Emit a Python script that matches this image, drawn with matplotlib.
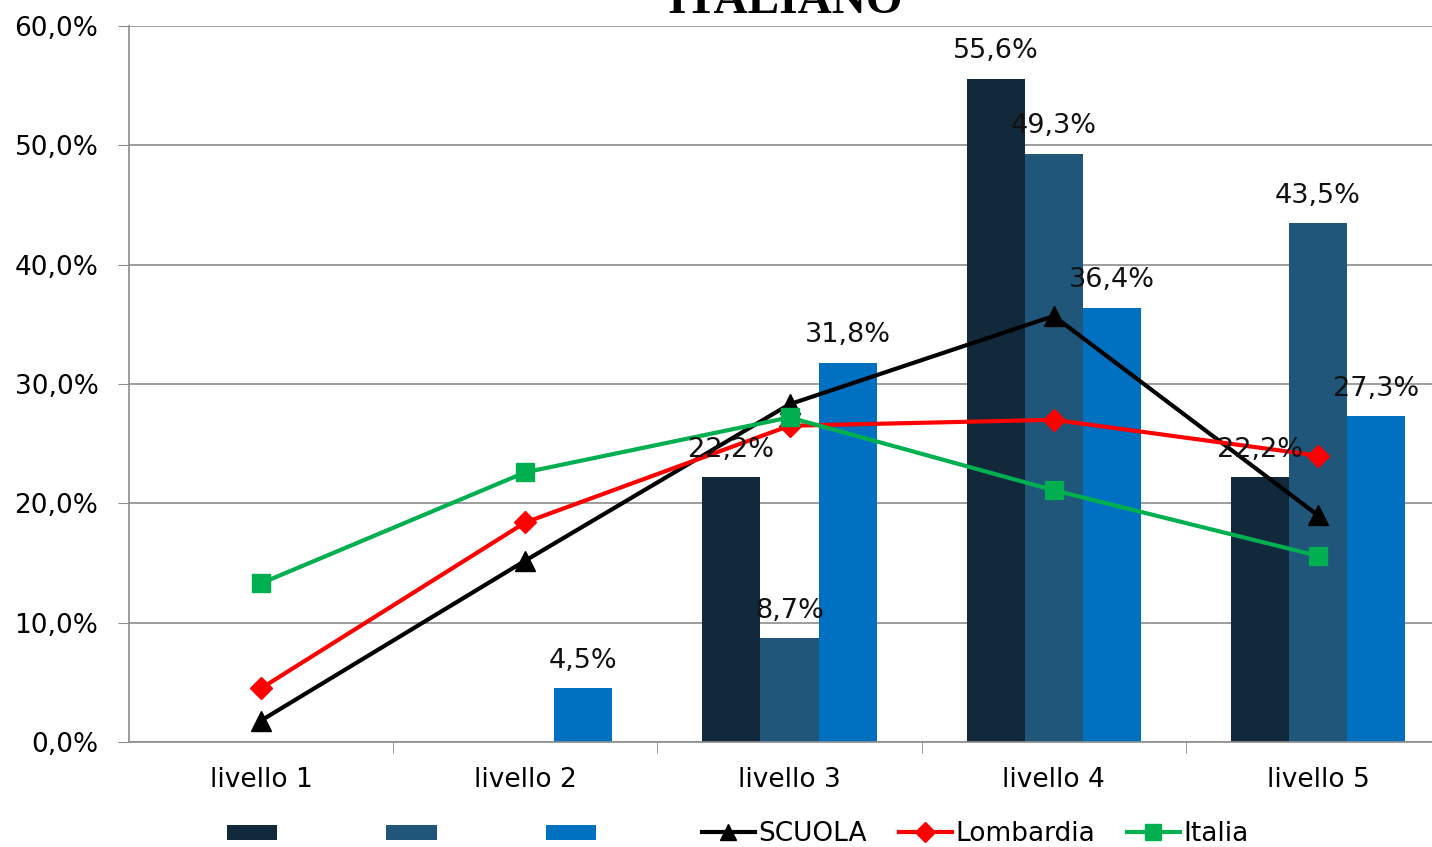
import matplotlib
matplotlib.use("Agg")
import matplotlib.pyplot as plt
from matplotlib.patches import Patch
from matplotlib.lines import Line2D
import numpy as np

categories = ["livello 1", "livello 2", "livello 3", "livello 4", "livello 5"]
bar_a = [0.0, 0.0, 22.2, 55.6, 22.2]
bar_b = [0.0, 0.0, 8.7, 49.3, 43.5]
bar_c = [0.0, 4.5, 31.8, 36.4, 27.3]
scuola = [1.8, 15.2, 28.3, 35.7, 19.0]
lombardia = [4.5, 18.4, 26.5, 27.0, 24.0]
italia = [13.3, 22.6, 27.2, 21.1, 15.6]
yticks = [0, 10, 20, 30, 40, 50, 60]

W, H = 1432, 847
fig = plt.figure(figsize=(W / 100, H / 100), dpi=100)
x0, x1 = 129, 1450
ytop, ybot = 26, 742
ax = fig.add_axes([x0 / W, 1 - ybot / H, (x1 - x0) / W, (ybot - ytop) / H])

x = np.arange(len(categories))
bw = 0.22
colors = ["#11293b", "#1f5679", "#0070c0"]
for i, (vals, c) in enumerate(zip([bar_a, bar_b, bar_c], colors)):
    pos = x + (i - 1) * bw
    ax.bar(pos, vals, width=bw, color=c, zorder=2)
    for p, v in zip(pos, vals):
        if v > 0:
            ax.text(p, v + 1.2, f"{v:.1f}%".replace(".", ","), ha="center",
                    va="bottom", fontsize=19.5, color="#111111", zorder=5)

ax.plot(x, scuola, color="black", lw=3, marker="^", ms=14, zorder=4)
ax.plot(x, lombardia, color="#ff0000", lw=3, marker="D", ms=11, zorder=4)
ax.plot(x, italia, color="#00b050", lw=3, marker="s", ms=13, zorder=4)

ax.set_xlim(-0.5, 4.5)
ax.set_ylim(0, 60)
ax.set_yticks(yticks)
ax.set_yticklabels([f"{t:.1f}%".replace(".", ",") for t in yticks], fontsize=19)
ax.yaxis.grid(True, color="#8c8c8c", lw=1.2, zorder=0)
ax.set_axisbelow(True)
ax.set_xticks(x)
ax.set_xticklabels(categories, fontsize=19)
ax.set_xticks(np.arange(0.5, 4.5, 1), minor=True)
ax.tick_params(axis="x", which="major", length=0, pad=18)
ax.tick_params(axis="x", which="minor", length=8, color="#8c8c8c", direction="out")
ax.tick_params(axis="y", length=8, color="#8c8c8c", pad=14)
for s in ["top", "right"]:
    ax.spines[s].set_visible(False)
for s in ["left", "bottom"]:
    ax.spines[s].set_color("#8c8c8c")
    ax.spines[s].set_linewidth(1.2)

fig.text(785 / W, 1 - 13 / H, "ITALIANO", ha="center", va="baseline",
         fontsize=34, fontweight="bold", family="Liberation Serif")

# legend: bars
bar_handles = [Patch(facecolor=c) for c in colors]
leg1 = fig.legend(bar_handles, ["", "", ""], loc="center left",
                  bbox_to_anchor=(227 / W, 1 - 834 / H), ncol=3, frameon=False,
                  handlelength=2.27, handleheight=0.65, columnspacing=4.9,
                  handletextpad=0.0, borderpad=0, borderaxespad=0, fontsize=16)
line_handles = [Line2D([], [], color="black", lw=3, marker="^", ms=12),
                Line2D([], [], color="#ff0000", lw=3, marker="D", ms=10),
                Line2D([], [], color="#00b050", lw=3, marker="s", ms=11)]
leg2 = fig.legend(line_handles, ["SCUOLA", "Lombardia", "Italia"], loc="center left",
                  bbox_to_anchor=(702 / W, 1 - 834 / H), ncol=3, frameon=False,
                  handlelength=2.0, columnspacing=1.2, handletextpad=0.15,
                  borderpad=0, borderaxespad=0, fontsize=19)
fig.add_artist(leg1)

fig.savefig("out.png", dpi=100)
